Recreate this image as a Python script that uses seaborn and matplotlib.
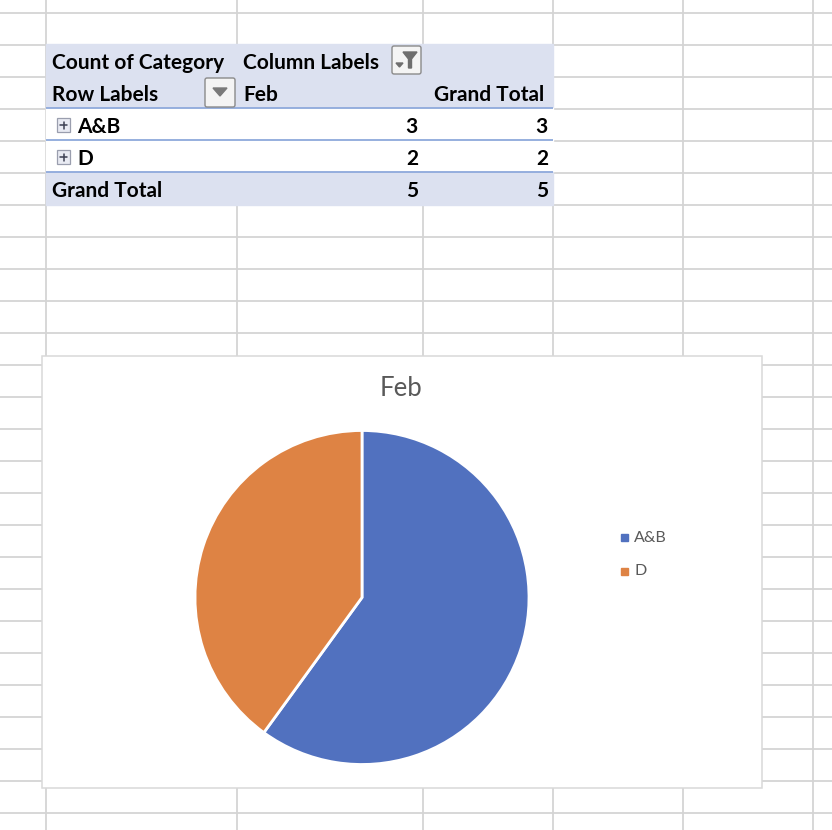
import matplotlib
matplotlib.use("Agg")
import matplotlib.pyplot as plt
import matplotlib.patches as mpatches
import seaborn as sns

# pivot / chart data
categories = ["A&B", "D"]
feb_counts = [3, 2]
col_label = "Feb"
totals = feb_counts  # only one column, so grand total per row equals Feb
grand_total = sum(feb_counts)

pie_colors = ["#5171BF", "#DE8344"]

sns.set_theme(style="white")
plt.rcParams["font.family"] = ["Lato", "DejaVu Sans"]

fig = plt.figure(figsize=(8.32, 8.30), dpi=100)
ax = fig.add_axes([0, 0, 1, 1])
ax.set_xlim(0, 832)
ax.set_ylim(830, 0)
ax.axis("off")

# spreadsheet grid
grid_c = "#D4D4D4"
col_x = [46, 237, 423, 553, 683, 813]
row_y = [13.3 + 32 * k for k in range(26)]
ax.vlines(col_x, 0, 830, color=grid_c, lw=1.3, zorder=1)
ax.hlines(row_y, 0, 832, color=grid_c, lw=1.3, zorder=1)

# pivot table
px0, px1 = 46, 553
hdr = "#DCE1F0"
line_c = "#8EA9DB"
ax.add_patch(mpatches.Rectangle((px0, 44.3), px1 - px0, 64, color=hdr, zorder=2))
ax.add_patch(mpatches.Rectangle((px0, 108.3), px1 - px0, 64, color="white", zorder=2))
ax.add_patch(mpatches.Rectangle((px0, 172.3), px1 - px0, 33, color=hdr, zorder=2))
ax.hlines([108.3, 140.5, 172.3], px0, px1, color=line_c, lw=1.3, zorder=3)

fs = 15
tkw = dict(fontsize=fs, fontweight="bold", color="black", va="baseline", zorder=4)
ax.text(52, 69, "Count of Category", ha="left", **tkw)
ax.text(243, 69, "Column Labels", ha="left", **tkw)
ax.text(52, 101, "Row Labels", ha="left", **tkw)
ax.text(243, 101, col_label, ha="left", **tkw)
ax.text(544, 101, "Grand Total", ha="right", **tkw)

for i, (cat, v, t) in enumerate(zip(categories, feb_counts, totals)):
    base = 108.3 + 32.2 * i
    ax.text(77, base + 24.8, cat, ha="left", **tkw)
    ax.text(418, base + 24.8, str(v), ha="right", **tkw)
    ax.text(548, base + 24.8, str(t), ha="right", **tkw)
    # expand (+) box
    bx, by = 57, base + 10
    ax.add_patch(mpatches.Rectangle((bx, by), 13, 14, facecolor="#E9EBF3",
                                    edgecolor="#9A9EAE", lw=0.9, zorder=4))
    ax.plot([bx + 3, bx + 10], [by + 7, by + 7], color="#3C3F52", lw=1.1, zorder=5)
    ax.plot([bx + 6.5, bx + 6.5], [by + 3.5, by + 10.5], color="#3C3F52", lw=1.1, zorder=5)

ax.text(52, 197, "Grand Total", ha="left", **tkw)
ax.text(418, 197, str(grand_total), ha="right", **tkw)
ax.text(548, 197, str(grand_total), ha="right", **tkw)

# filter button (column labels)
ax.add_patch(mpatches.FancyBboxPatch((392, 46), 29, 28, boxstyle="round,pad=0,rounding_size=2",
                                     facecolor="#F4F4F4", edgecolor="#8A8A8A", lw=1.0, zorder=4))
ax.add_patch(mpatches.Polygon([(403, 52), (417, 52), (411.5, 59), (411.5, 68), (408.5, 68), (408.5, 59)],
                              closed=True, color="#6E6E6E", zorder=5))
ax.add_patch(mpatches.Polygon([(396, 63), (403, 63), (399.5, 67)], closed=True, color="#6E6E6E", zorder=5))

# dropdown button (row labels)
ax.add_patch(mpatches.FancyBboxPatch((205, 78), 30, 29, boxstyle="round,pad=0,rounding_size=2",
                                     facecolor="#F4F4F4", edgecolor="#8A8A8A", lw=1.0, zorder=4))
ax.add_patch(mpatches.Polygon([(213, 88), (227, 88), (220, 96)], closed=True, color="#7A7A7A", zorder=5))

# chart area
ax.add_patch(mpatches.Rectangle((42, 355.7), 720, 432, facecolor="white",
                                edgecolor="#D9D9D9", lw=1.1, zorder=6))
ax.text(401, 388, col_label, ha="center", va="center", fontsize=18.5,
        color="#595959", zorder=7)

# legend
for i, (cat, c) in enumerate(zip(categories, pie_colors)):
    y = 537.5 + 33.5 * i
    ax.add_patch(mpatches.Rectangle((621, y - 3.5), 7, 7, color=c, zorder=7))
    ax.text(634, y, cat, ha="left", va="center", fontsize=11.5, color="#595959", zorder=7)

# pie
cx, cy, r = 362, 597.5, 167
pax = fig.add_axes([(cx - r) / 832, (830 - cy - r) / 830, 2 * r / 832, 2 * r / 830])
pax.pie(feb_counts, colors=pie_colors, startangle=90, counterclock=False,
        wedgeprops=dict(edgecolor="white", linewidth=2))
pax.set_xlim(-1, 1)
pax.set_ylim(-1, 1)
pax.axis("off")

fig.savefig("out.png", dpi=100)
